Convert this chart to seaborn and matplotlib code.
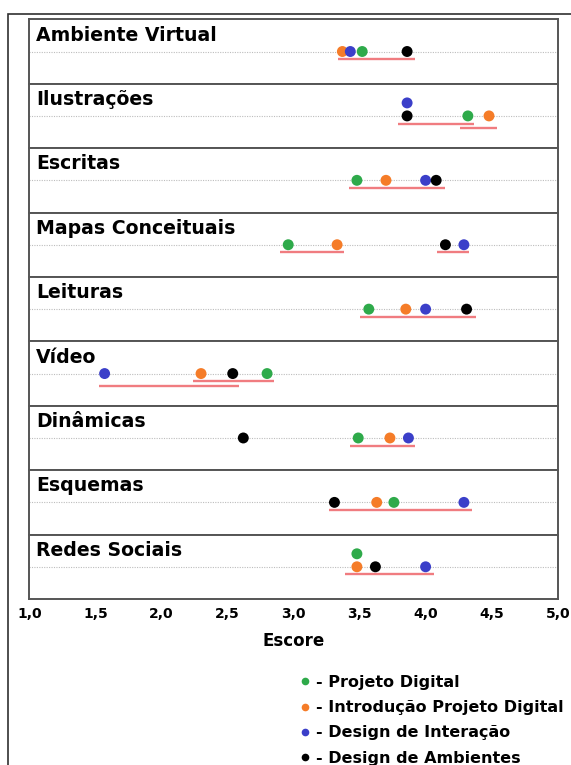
import numpy as np
import pandas as pd
import matplotlib
matplotlib.use("Agg")
import matplotlib.pyplot as plt
from matplotlib.lines import Line2D
from matplotlib.patches import Rectangle
import seaborn as sns

# ---------------- data ----------------
categories = ["Ambiente Virtual", "Ilustrações", "Escritas", "Mapas Conceituais",
              "Leituras", "Vídeo", "Dinâmicas", "Esquemas", "Redes Sociais"]
groups = ["Projeto Digital", "Introdução Projeto Digital",
          "Design de Interação", "Design de Ambientes"]
projeto_digital = [3.52, 4.32, 3.48, 2.96, 3.57, 2.80, 3.49, 3.76, 3.48]
introducao_projeto_digital = [3.37, 4.48, 3.70, 3.33, 3.85, 2.30, 3.73, 3.63, 3.48]
design_interacao = [3.43, 3.86, 4.00, 4.29, 4.00, 1.57, 3.87, 4.29, 4.00]
design_ambientes = [3.86, 3.86, 4.08, 4.15, 4.31, 2.54, 2.62, 3.31, 3.62]

# groupings (non-significant differences), drawn as red underlines
line_category = ["Ambiente Virtual", "Ilustrações", "Ilustrações", "Escritas",
                 "Mapas Conceituais", "Mapas Conceituais", "Leituras",
                 "Vídeo", "Vídeo", "Dinâmicas", "Esquemas", "Redes Sociais"]
line_start = [3.34, 3.79, 4.26, 3.42, 2.90, 4.09, 3.50, 2.24, 1.53, 3.43, 3.27, 3.39]
line_end = [3.92, 4.37, 4.54, 4.15, 3.38, 4.33, 4.38, 2.85, 2.59, 3.92, 4.35, 4.06]

xticks = [1.0, 1.5, 2.0, 2.5, 3.0, 3.5, 4.0, 4.5, 5.0]
xtick_labels = ["1,0", "1,5", "2,0", "2,5", "3,0", "3,5", "4,0", "4,5", "5,0"]
x_label = "Escore"

colors = ["#2eaa4a", "#f57c28", "#3b3fc9", "#000000"]
line_color = "#f07c80"

# ---------------- tidy frame ----------------
values = [projeto_digital, introducao_projeto_digital, design_interacao, design_ambientes]
rows = []
for g, vals in zip(groups, values):
    for c, v in zip(categories, vals):
        rows.append({"categoria": c, "grupo": g, "escore": v})
df = pd.DataFrame(rows)
df["grupo"] = pd.Categorical(df["grupo"], categories=groups, ordered=True)
df = df.sort_values(["categoria", "grupo"])
# coincident means are stacked: earlier groups go on top
df["nivel"] = df.groupby(["categoria", "escore"]).cumcount(ascending=False)
STACK = 13.0
df["y"] = df["nivel"] * STACK

lines = pd.DataFrame({"categoria": line_category, "ini": line_start, "fim": line_end})

# ---------------- figure ----------------
sns.set_style("white")
plt.rcParams["font.family"] = ["DejaVu Sans"]
plt.rcParams["text.color"] = "black"
plt.rcParams["axes.labelcolor"] = "black"
plt.rcParams["xtick.color"] = "black"

W, H = 571, 765
fig = plt.figure(figsize=(W / 100, H / 100), dpi=100)
left, right = 29.3 / W, 557.7 / W
top, bottom = 1 - 19.3 / H, 1 - 599 / H
gs = fig.add_gridspec(len(categories), 1, left=left, right=right, top=top,
                      bottom=bottom, hspace=0)
axes = [fig.add_subplot(gs[i, 0]) for i in range(len(categories))]

palette = dict(zip(groups, colors))
for i, (ax, cat) in enumerate(zip(axes, categories)):
    sub = df[df["categoria"] == cat]
    ax.axhline(0, color="#bdbdbd", lw=0.8, ls=(0, (1, 1.2)), zorder=0)
    sns.scatterplot(data=sub, x="escore", y="y", hue="grupo", palette=palette,
                    hue_order=groups, s=62, edgecolor="none", legend=False,
                    ax=ax, zorder=3)
    # grouping lines, overlapping ones move one row down
    placed = []
    for _, r in lines[lines["categoria"] == cat].iterrows():
        lvl = 0
        for (a, b, l) in placed:
            if r["ini"] < b and r["fim"] > a and l >= lvl:
                lvl = l + 1
        placed.append((r["ini"], r["fim"], lvl))
        ax.hlines(-7.7 - 4.3 * lvl, r["ini"], r["fim"], color=line_color,
                  lw=1.7, zorder=2)
    ax.set_xlim(1, 5)
    ax.set_ylim(-32.2, 32.2)
    ax.set_yticks([])
    ax.set_ylabel("")
    ax.set_xlabel("")
    for sp in ax.spines.values():
        sp.set_color("#555555")
        sp.set_linewidth(1.4)
    ax.text(0.0127, 0.756, cat, transform=ax.transAxes, va="center", ha="left",
            fontsize=13.6, fontweight="bold", color="black")
    ax.set_xticks(xticks)
    if i < len(categories) - 1:
        ax.tick_params(axis="x", which="both", bottom=False, labelbottom=False)
    else:
        ax.set_xticks(np.arange(1.0, 5.0001, 0.1), minor=True)
        ax.set_xticklabels(xtick_labels, fontweight="bold", fontsize=10)
        ax.tick_params(axis="x", which="both", direction="in", length=3,
                       width=0.8, color="#404040", pad=6)
        ax.set_xlabel(x_label, fontsize=12, fontweight="bold", labelpad=8)

# legend
handles = [Line2D([0], [0], marker="o", ls="none", markersize=5.5,
                  markerfacecolor=c, markeredgecolor="none") for c in colors]
labels = ["- " + g for g in groups]
fig.legend(handles, labels, loc="upper left", bbox_to_anchor=(299 / W, 1 - 675 / H),
           frameon=False, prop={"weight": "bold", "size": 11.5},
           handlelength=0.78, handletextpad=0.3, labelspacing=0.64, borderpad=0,
           borderaxespad=0, labelcolor="black")

# outer frame (cropped by the image edges)
fig.add_artist(Rectangle((8 / W, -0.1), 1.2, 1 - 14 / H + 0.1,
                         transform=fig.transFigure, fill=False,
                         edgecolor="#303030", lw=1.2, clip_on=False))

fig.savefig("out.png", dpi=100)
